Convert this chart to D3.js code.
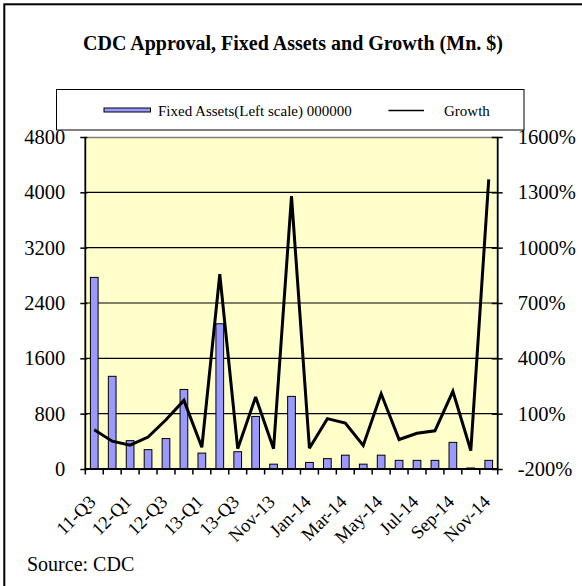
<!DOCTYPE html>
<html>
<head>
<meta charset="utf-8">
<script src="https://cdn.jsdelivr.net/npm/d3@7"></script>
<style>
  html, body { margin: 0; padding: 0; background: #fff; }
  svg { display: block; }
  text { font-family: "Liberation Serif", "Times New Roman", serif; fill: #000; }
</style>
</head>
<body>
<svg id="chart" width="582" height="586"></svg>
<script>
const categories = ["11-Q3","11-Q4","12-Q1","12-Q2","12-Q3","12-Q4","13-Q1","13-Q2","13-Q3","Oct-13",
  "Nov-13","Dec-13","Jan-14","Feb-14","Mar-14","Apr-14","May-14","Jun-14","Jul-14","Aug-14",
  "Sep-14","Oct-14","Nov-14"];
const fixedAssets = [2770,1340,410,280,440,1150,230,2100,250,760,
  70,1050,95,150,200,70,200,125,125,125,
  385,15,125];
const growth = [13,-49,-71,-27,67,172,-82,856,-90,190,
  -90,1280,-87,73,49,-72,208,-40,-6,7,
  221,-100,1370];
const leftTicks = [0,800,1600,2400,3200,4000,4800];
const rightTicks = [-200,100,400,700,1000,1300,1600];
const shownLabels = ["11-Q3","12-Q1","12-Q3","13-Q1","13-Q3","Nov-13","Jan-14","Mar-14","May-14","Jul-14","Sep-14","Nov-14"];
const titleText = "CDC Approval, Fixed Assets and Growth (Mn. $)";
const legendBar = "Fixed Assets(Left scale) 000000";
const legendLine = "Growth";
const sourceText = "Source: CDC";

const svg = d3.select("#chart");
const plot = {left: 85.3, right: 497.7, top: 137, bottom: 469};

// outer border (top & left visible)
svg.append("rect").attr("x", 4.3).attr("y", 4.3).attr("width", 700).attr("height", 700)
  .attr("fill", "#fff").attr("stroke", "#000").attr("stroke-width", 2);

// title
svg.append("text").attr("x", 293).attr("y", 50).attr("text-anchor", "middle")
  .style("font-size", "20px").style("font-weight", "bold").text(titleText);

// legend
const lg = svg.append("g");
lg.append("rect").attr("x", 56.5).attr("y", 89.5).attr("width", 467.5).attr("height", 40.5)
  .attr("fill", "#fff").attr("stroke", "#000").attr("stroke-width", 1);
lg.append("rect").attr("x", 104).attr("y", 108).attr("width", 46.5).attr("height", 4)
  .attr("fill", "#9999FF").attr("stroke", "#000").attr("stroke-width", 1);
lg.append("text").attr("x", 158).attr("y", 115.5).style("font-size", "15px").text(legendBar);
lg.append("line").attr("x1", 388.5).attr("x2", 424).attr("y1", 110.5).attr("y2", 110.5)
  .attr("stroke", "#000").attr("stroke-width", 1.5);
lg.append("text").attr("x", 444).attr("y", 115.5).style("font-size", "15px").text(legendLine);

// scales
const x = d3.scaleBand().domain(categories).range([plot.left, plot.right])
  .paddingInner(0.57).paddingOuter(0.285);
const yL = d3.scaleLinear().domain([0, 4800]).range([plot.bottom, plot.top]);
const yR = d3.scaleLinear().domain([-200, 1600]).range([plot.bottom, plot.top]);

// plot background
svg.append("rect").attr("x", plot.left).attr("y", plot.top)
  .attr("width", plot.right - plot.left).attr("height", plot.bottom - plot.top)
  .attr("fill", "#FFFFCC");
svg.append("line").attr("x1", plot.left).attr("x2", plot.right)
  .attr("y1", plot.top + 0.5).attr("y2", plot.top + 0.5)
  .attr("stroke", "#808080").attr("stroke-width", 1.3);

// gridlines
svg.append("g").selectAll("line").data(leftTicks.filter(d => d > 0 && d < 4800)).join("line")
  .attr("x1", plot.left).attr("x2", plot.right)
  .attr("y1", d => yL(d)).attr("y2", d => yL(d))
  .attr("stroke", "#000").attr("stroke-width", 1.2);

// bars
svg.append("g").selectAll("rect").data(categories).join("rect")
  .attr("x", d => x(d)).attr("width", x.bandwidth())
  .attr("y", (d, i) => yL(fixedAssets[i]))
  .attr("height", (d, i) => yL(0) - yL(fixedAssets[i]))
  .attr("fill", "#9999FF").attr("stroke", "#000").attr("stroke-width", 1);

// growth line
const line = d3.line()
  .x((d, i) => x(categories[i]) + x.bandwidth() / 2)
  .y(d => yR(d));
svg.append("path").datum(growth).attr("d", line)
  .attr("fill", "none").attr("stroke", "#000").attr("stroke-width", 3)
  .attr("stroke-linejoin", "miter").attr("stroke-miterlimit", 3);

// left axis
const axL = svg.append("g").attr("transform", `translate(${plot.left},0)`)
  .call(d3.axisLeft(yL).tickValues(leftTicks).tickSize(5).tickPadding(15).tickFormat(d3.format("d")));
axL.select(".domain").attr("stroke", "#000").attr("stroke-width", 1.8).attr("d", `M0,${plot.top}V${plot.bottom}`);
axL.selectAll(".tick line").attr("x1", 2).attr("stroke-width", 1.5);
axL.selectAll(".tick text").style("font-size", "20.5px").attr("font-family", null);

// right axis
const axR = svg.append("g").attr("transform", `translate(${plot.right},0)`)
  .call(d3.axisRight(yR).tickValues(rightTicks).tickSize(5).tickPadding(15).tickFormat(d => d + "%"));
axR.select(".domain").attr("stroke", "#000").attr("stroke-width", 1.8).attr("d", `M0,${plot.top}V${plot.bottom}`);
axR.selectAll(".tick line").attr("x1", -6).attr("stroke-width", 1.5);
axR.selectAll(".tick text").style("font-size", "20.5px").attr("font-family", null);

// x axis line and ticks at category boundaries
const step = x.step();
const bounds = d3.range(categories.length + 1).map(i => plot.left + i * step);
svg.append("line").attr("x1", plot.left).attr("x2", plot.right)
  .attr("y1", plot.bottom).attr("y2", plot.bottom).attr("stroke", "#000").attr("stroke-width", 1.8);
svg.append("g").selectAll("line").data(bounds).join("line")
  .attr("x1", d => d).attr("x2", d => d)
  .attr("y1", plot.bottom - 1).attr("y2", plot.bottom + 5.5)
  .attr("stroke", "#000").attr("stroke-width", 1.5);

// x labels
svg.append("g").selectAll("text").data(shownLabels).join("text")
  .attr("transform", d => `translate(${x(d) + x.bandwidth() / 2 + 2.5},503) rotate(-45)`)
  .attr("text-anchor", "end")
  .style("font-size", "18.5px").text(d => d);

// source
svg.append("text").attr("x", 27).attr("y", 571).style("font-size", "20px").text(sourceText);
</script>
</body>
</html>
